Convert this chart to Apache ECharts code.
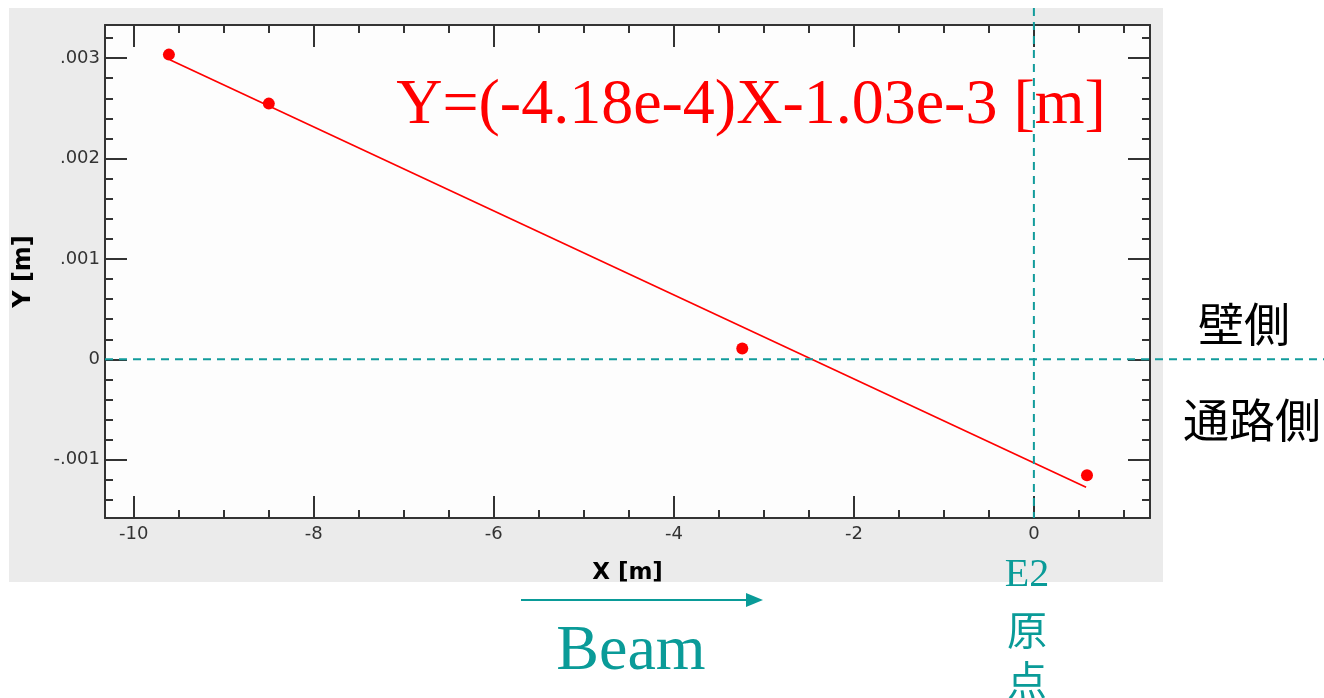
<!DOCTYPE html>
<html><head><meta charset="utf-8">
<script src="https://cdn.jsdelivr.net/npm/echarts@6/dist/echarts.min.js"></script>
<style>html,body{margin:0;padding:0;background:#fff;} #c{width:1324px;height:698px;}</style>
</head><body><div id="c"></div>
<script>
// ---- data ----
const xMajorTicks = [-10, -8, -6, -4, -2, 0];
const xMinorTicks = [-9.5, -9, -8.5, -7.5, -7, -6.5, -5.5, -5, -4.5, -3.5, -3, -2.5, -1.5, -1, -0.5, 0.5, 1];
const yMajorTicks = [-0.001, 0, 0.001, 0.002, 0.003];
const yMinorTicks = [-0.0014, -0.0012, -0.0008, -0.0006, -0.0004, -0.0002, 0.0002, 0.0004, 0.0006, 0.0008,
                     0.0012, 0.0014, 0.0016, 0.0018, 0.0022, 0.0024, 0.0026, 0.0028, 0.0032];
const xRange = [-10.32, 1.29];
const yRange = [-0.00158, 0.00333];
const measuredPoints = [[-9.61, 0.003035], [-8.5, 0.002547], [-3.24, 0.000109], [0.59, -0.001154]];
const fitLine = [[-9.6, 0.002983], [0.58, -0.001273]];
const fitLabel = 'Y=(-4.18e-4)X-1.03e-3 [m]';
const xName = 'X [m]';
const yName = 'Y [m]';

// ---- chart ----
const AX = '#333';
const TEAL = '#129c9c';
const TEXT_TEAL = '#0a9b98';
const labelFont = { fontFamily: 'DejaVu Sans', fontSize: 18, color: '#333' };

function yFmt(v) {
  if (Math.abs(v) < 1e-12) return '0';
  let s = v.toFixed(3);
  return s.replace(/^(-?)0\./, '$1.');
}

function xAx(position, ticks, len, showLine, labels) {
  return {
    type: 'value', gridIndex: 0, position: position, min: xRange[0], max: xRange[1],
    axisLine: { show: showLine, onZero: false, lineStyle: { color: AX, width: 2 } },
    axisTick: { show: true, inside: true, length: len, customValues: ticks, lineStyle: { color: AX, width: 2 } },
    axisLabel: labels ? Object.assign({ show: true, customValues: ticks, margin: 7, formatter: v => String(v) }, labelFont) : { show: false },
    splitLine: { show: false }, minorTick: { show: false }, minorSplitLine: { show: false }
  };
}
function yAx(position, ticks, len, showLine, labels) {
  return {
    type: 'value', gridIndex: 0, position: position, min: yRange[0], max: yRange[1],
    axisLine: { show: showLine, onZero: false, lineStyle: { color: AX, width: 2 } },
    axisTick: { show: true, inside: true, length: len, customValues: ticks, lineStyle: { color: AX, width: 2 } },
    axisLabel: labels ? Object.assign({ show: true, customValues: ticks, margin: 5, formatter: yFmt }, labelFont) : { show: false },
    splitLine: { show: false }, minorTick: { show: false }, minorSplitLine: { show: false }
  };
}

const xAxes = [
  xAx('bottom', xMajorTicks, 22, true, true),
  xAx('bottom', xMinorTicks, 8, false, false),
  xAx('top', xMajorTicks, 22, true, false),
  xAx('top', xMinorTicks, 8, false, false)
];
Object.assign(xAxes[0], { name: xName, nameLocation: 'middle', nameGap: 44,
  nameTextStyle: { fontFamily: 'DejaVu Sans', fontWeight: 'bold', fontSize: 23, color: '#000' } });
const yAxes = [
  yAx('left', yMajorTicks, 22, true, true),
  yAx('left', yMinorTicks, 8, false, false),
  yAx('right', yMajorTicks, 22, true, false),
  yAx('right', yMinorTicks, 8, false, false)
];
Object.assign(yAxes[0], { name: yName, nameLocation: 'middle', nameGap: 69,
  nameTextStyle: { fontFamily: 'DejaVu Sans', fontWeight: 'bold', fontSize: 24, color: '#000' } });

const chart = echarts.init(document.getElementById('c'), null, { renderer: 'canvas' });
chart.setOption({
  animation: false,
  grid: { left: 105, top: 25, width: 1045, height: 493, show: true, backgroundColor: '#fdfdfd', borderWidth: 0 },
  xAxis: xAxes,
  yAxis: yAxes,
  series: [
    { type: 'line', data: fitLine, xAxisIndex: 0, yAxisIndex: 0, showSymbol: false, symbol: 'none',
      lineStyle: { color: '#ff0000', width: 1.7 }, z: 3 },
    { type: 'scatter', data: measuredPoints, xAxisIndex: 0, yAxisIndex: 0, symbol: 'circle', symbolSize: 12,
      itemStyle: { color: '#ff0000', opacity: 1 }, z: 4 }
  ]
});

const x0 = chart.convertToPixel({ xAxisIndex: 0 }, 0);
const y0 = chart.convertToPixel({ yAxisIndex: 0 }, 0);
const gLeft = chart.convertToPixel({ xAxisIndex: 0 }, xRange[0]);
const gBottom = chart.convertToPixel({ yAxisIndex: 0 }, yRange[0]);

function txt(id, text, x, y, font, fill, z, extra) {
  return Object.assign({ type: 'text', id: id, z: z || 50,
    style: Object.assign({ text: text, x: x, y: y, font: font, fill: fill,
      align: 'center', verticalAlign: 'middle', textAlign: 'center', textVerticalAlign: 'middle' }) }, extra || {});
}

chart.setOption({
  graphic: [
    { type: 'rect', id: 'panel', z: -100, shape: { x: 9, y: 8, width: 1154, height: 574 }, style: { fill: '#ebebeb' } },
    txt('fit', fitLabel, 751, 106, '64px "Liberation Serif"', '#ff0000', 40),
    txt('wall', '壁側', 1244, 324, '46px "Noto Sans CJK JP"', '#000', 40),
    txt('path', '通路側', 1252, 420, '46px "Noto Sans CJK JP"', '#000', 40),
    txt('e2', 'E2', 1027, 575, '40px "Liberation Serif"', TEXT_TEAL, 40),
    txt('gen', '原', 1027, 630, '40px "Noto Sans CJK JP"', TEXT_TEAL, 40),
    txt('ten', '点', 1027, 680, '40px "Noto Sans CJK JP"', TEXT_TEAL, 40),
    txt('beam', 'Beam', 631, 652, '64px "Liberation Serif"', TEXT_TEAL, 40),
    { type: 'line', id: 'arrowLine', z: 40, shape: { x1: 521, y1: 600, x2: 750, y2: 600 }, style: { stroke: TEXT_TEAL, lineWidth: 2 } },
    { type: 'polygon', id: 'arrowHead', z: 40, shape: { points: [[746, 593], [763, 600], [746, 607]] }, style: { fill: TEXT_TEAL } },
    { type: 'line', id: 'hzero', z: 100, shape: { x1: gLeft, y1: y0, x2: 1324, y2: y0 },
      style: { stroke: TEAL, lineWidth: 2, lineDash: [8, 6] } },
    { type: 'line', id: 'vzero', z: 100, shape: { x1: x0, y1: 8, x2: x0, y2: gBottom },
      style: { stroke: TEAL, lineWidth: 2, lineDash: [8, 6] } }
  ]
});
</script>
</body></html>
